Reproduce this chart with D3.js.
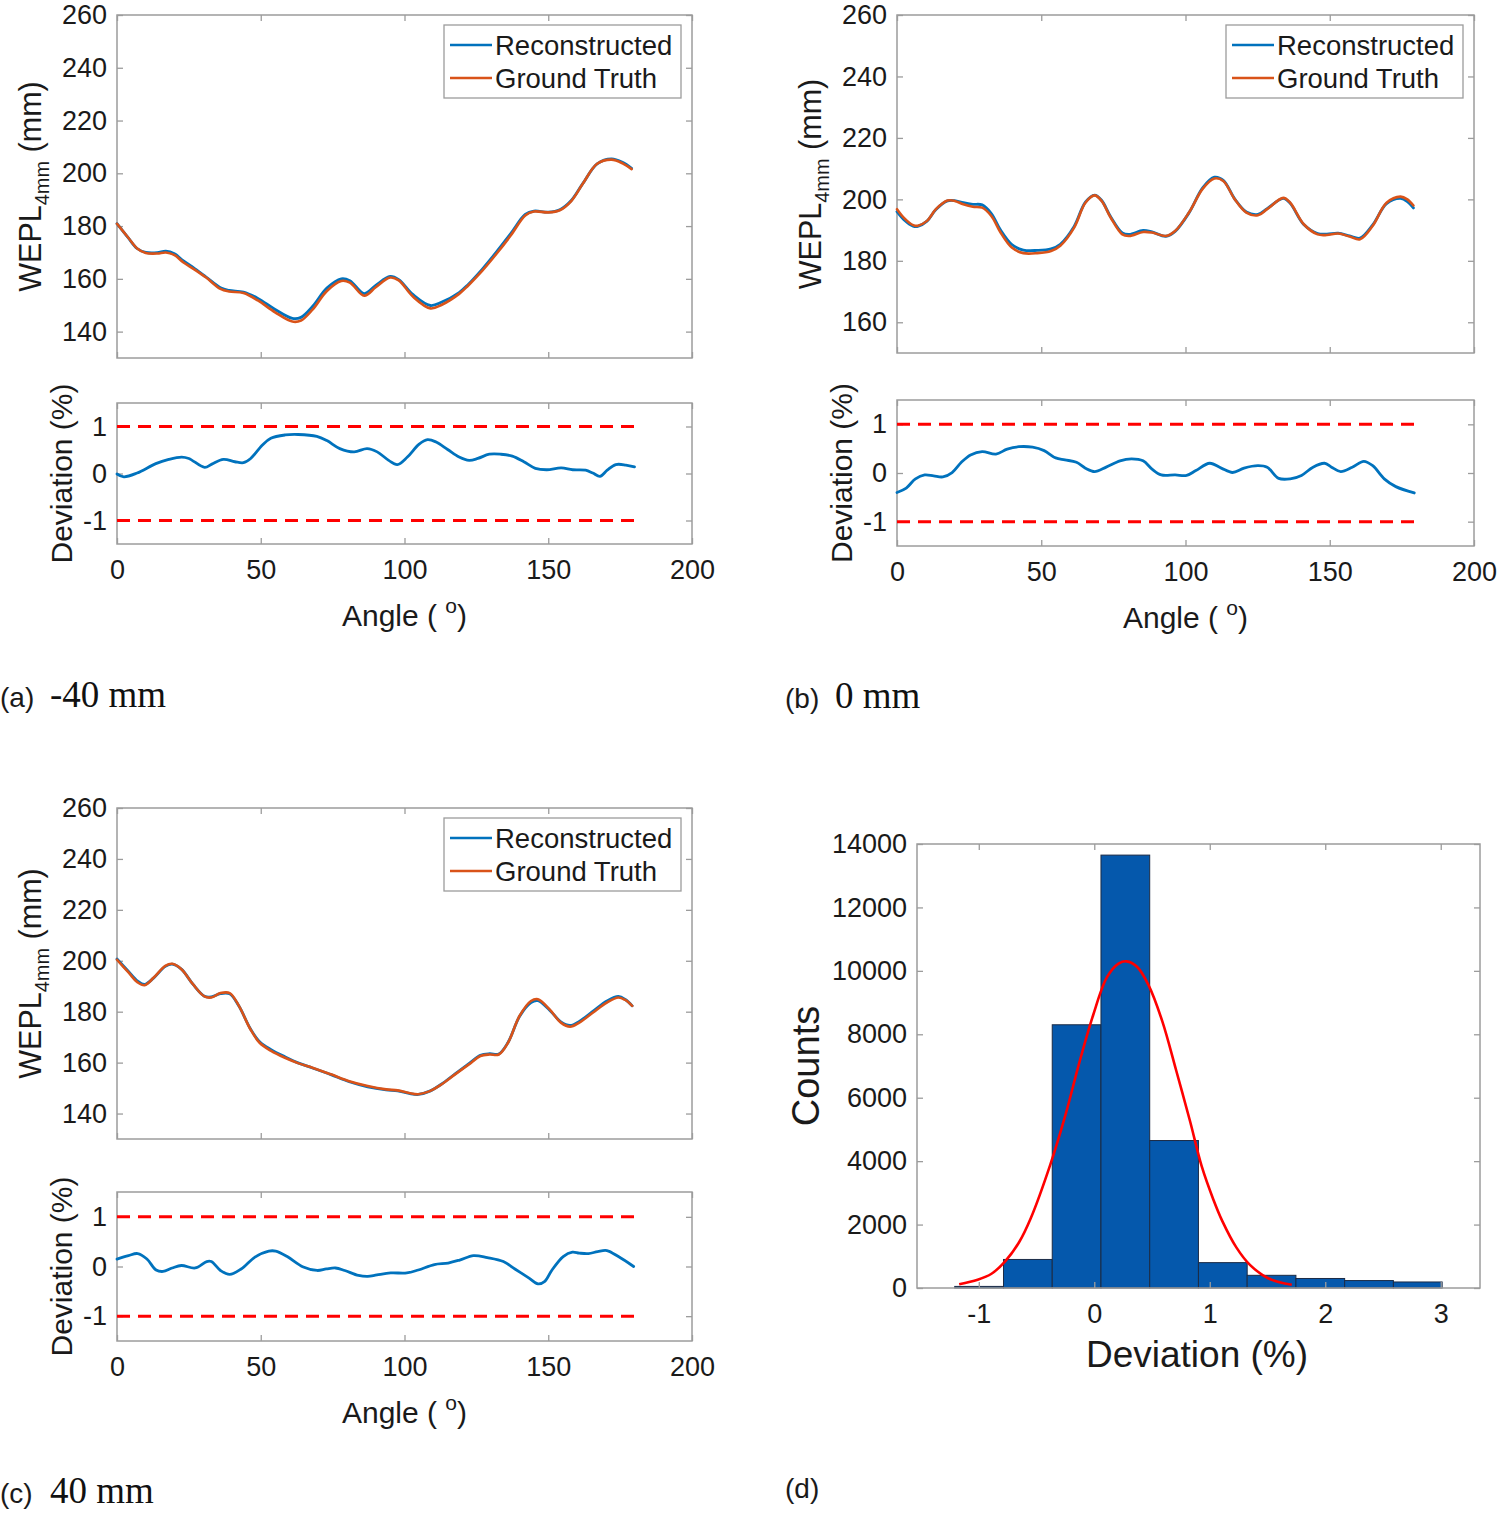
<!DOCTYPE html>
<html><head><meta charset="utf-8">
<script src="https://cdn.jsdelivr.net/npm/d3@7"></script>
<style>
body{margin:0;background:#fff}
svg{display:block}
</style>
</head><body>
<svg id="c" width="1500" height="1513"></svg>
<script>
// ---------------- DATA ----------------
const xTicks = [0, 50, 100, 150, 200];
const wTicksAC = [140, 160, 180, 200, 220, 240, 260];
const wTicksB = [160, 180, 200, 220, 240, 260];
const devTicks = [-1, 0, 1];
const devLimits = [-1, 1];
const legendLabels = ["Reconstructed", "Ground Truth"];

// Panel (a) -40 mm
const angleA = [0,4,7,10,14,17,20,23,27,31,36,39,44,49,55,61,64,68,73,78,81,86,90,95,98,103,109,113,119,122,127,132,137,142,145,150,154,158,162,167,172,176,179];
const gtA  = [180.9,175.5,171.5,169.8,169.6,170.0,169.0,166.3,163.5,160.5,156.2,155.2,154.6,151.8,147.3,143.8,144.2,148.3,155.4,159.2,158.6,153.6,156.8,160.5,159.4,153.2,148.8,150.2,154.3,157.3,163.0,169.5,176.5,184.0,185.5,185.2,186.0,189.5,196.0,203.6,205.2,203.7,201.6];
const recA = [180.9,175.4,171.5,170.0,169.9,170.5,169.5,166.9,163.9,160.7,156.6,155.6,155.0,152.6,148.4,145.0,145.4,149.5,156.5,160.0,159.3,154.4,157.5,160.9,159.7,154.0,149.9,151.2,154.8,157.7,163.6,170.2,177.2,184.4,185.7,185.3,186.2,189.7,196.1,203.6,205.5,204.1,201.9];
const devAngleA = [0,2.4,7,13.5,18,22.5,25,30.5,33,37,41,44,46.5,50.5,53.5,58.5,63,69.5,73,77.5,82.5,87,90.5,94.5,97.5,101,105,108,111,115,119,122.5,125.5,129.5,133.5,137.5,141.5,145.5,149.5,154.5,158.5,163,165.5,168,170.5,173.5,177,180];
const devA = [-0.01,-0.07,0.01,0.21,0.30,0.35,0.32,0.13,0.20,0.30,0.25,0.23,0.32,0.60,0.75,0.82,0.83,0.79,0.70,0.53,0.46,0.53,0.46,0.28,0.19,0.35,0.62,0.72,0.67,0.51,0.35,0.28,0.32,0.41,0.41,0.37,0.25,0.11,0.08,0.12,0.08,0.07,0.01,-0.06,0.07,0.19,0.18,0.14];

// Panel (b) 0 mm
const angleB = [0,2.4,5.6,7.2,10.4,13.5,17.5,20,23,26.3,29.5,32.7,35.9,39.8,43.8,48.6,53.4,56.6,61.4,65.3,68.5,70.9,74.1,78.1,80.5,85.3,88.4,93.2,96.4,101.2,106,110,113.1,117.1,121.1,125.1,128.3,133.9,136.3,141,145.8,149,152.9,156.9,160.5,164.9,169.7,174.5,176.9,179];
const gtB  = [196.8,194.0,191.6,191.4,193.0,196.8,199.6,199.5,198.4,197.6,197.3,194.6,189.2,184.3,182.5,182.5,183.2,184.9,190.8,198.9,201.3,199.5,194.0,188.6,188.1,189.4,189.2,188.1,189.7,195.7,203.5,206.8,206.0,200.0,195.7,194.8,196.8,200.5,198.9,191.9,188.6,188.4,188.9,187.9,187.0,191.4,198.9,200.9,200.0,198.0];
const recB = [196.0,193.4,191.3,191.2,192.9,196.7,199.5,199.6,198.9,198.4,198.2,195.4,190.0,185.3,183.5,183.4,183.9,185.4,191.2,199.1,201.4,199.7,194.3,189.1,188.6,189.9,189.4,188.0,189.6,195.6,203.8,207.2,206.2,200.1,195.9,195.1,197.0,200.3,198.7,191.8,188.9,188.7,189.0,188.1,187.4,191.7,198.6,200.3,199.3,197.2];
const devAngleB = [0,3.2,6.4,9.6,12.7,15.9,19.1,22.3,25.5,29.5,34.3,38.2,42.2,47,51,55,58.2,62.2,65.3,68.5,72.5,77.3,81.3,85.3,88.4,91.6,96.4,100.4,103.6,108.4,112.4,116.3,120.3,125.1,128.3,132.3,136.3,140.2,144.2,148.2,150.6,153.8,157.8,161.8,164.9,168.9,172.9,179.3];
const devB = [-0.40,-0.31,-0.12,-0.04,-0.06,-0.08,0.01,0.22,0.37,0.44,0.39,0.49,0.54,0.53,0.46,0.31,0.27,0.22,0.10,0.03,0.12,0.25,0.29,0.25,0.08,-0.04,-0.04,-0.05,0.05,0.20,0.10,0.01,0.10,0.15,0.12,-0.11,-0.12,-0.05,0.12,0.20,0.12,0.03,0.12,0.24,0.15,-0.12,-0.28,-0.41];

// Panel (c) 40 mm
const angleC = [0,4,7.2,9.6,12.8,16.8,19.2,22.4,26.4,30.4,32.8,36,39.2,42.4,46.4,49.6,53.6,58.4,63.2,68,74.4,80.8,87.2,93.6,97.6,101.6,104.8,108.8,112.8,117.6,122.4,126.4,129.6,132.8,136,140,144,146.4,150.4,154.4,157.6,160.8,165.6,170.4,174.4,176.8,179.2];
const gtC  = [200.4,195.4,191.5,190.4,193.4,198.0,198.8,196.7,190.8,186.0,185.6,187.3,187.3,182.3,173.1,167.8,164.6,161.9,159.7,158.0,155.4,152.7,150.8,149.5,149.1,148.1,147.6,148.8,151.4,155.4,159.3,162.6,163.2,163.2,167.8,178.3,184.2,184.9,181.0,175.7,174.1,175.7,179.7,183.6,185.6,184.6,182.3];
const recC = [200.7,195.8,192.0,190.7,193.3,197.8,198.7,196.7,190.8,186.1,185.8,187.1,187.0,182.2,173.3,168.2,165.1,162.3,159.8,157.9,155.3,152.5,150.5,149.3,148.9,147.9,147.5,148.8,151.5,155.6,159.6,162.9,163.5,163.4,167.9,178.1,183.6,184.3,180.7,176.0,174.6,176.2,180.2,184.2,186.0,184.8,182.3];
const devAngleC = [0,4,7.2,10.4,13.6,16,19.2,22.4,27.2,31.2,32.8,36,39.2,43.2,48,52.8,55.2,59.2,64.8,69.6,72.8,76,79.2,84,87.2,90.4,95.2,100.8,104.8,110.4,115.2,119.2,124,128.8,134.4,138.4,143.2,146.4,148.8,151.2,155.2,158.4,160.8,164,167.2,170.4,174.4,179.7];
const devC = [0.15,0.22,0.26,0.15,-0.07,-0.10,-0.03,0.02,-0.03,0.10,0.10,-0.08,-0.16,-0.05,0.19,0.31,0.31,0.20,-0.01,-0.08,-0.05,-0.03,-0.08,-0.18,-0.20,-0.17,-0.13,-0.13,-0.07,0.04,0.07,0.13,0.22,0.18,0.10,-0.05,-0.23,-0.35,-0.30,-0.08,0.20,0.29,0.27,0.26,0.30,0.32,0.20,0.00];

// Panel (d) histogram
const histEdges = [-1.208,-0.786,-0.364,0.058,0.480,0.902,1.324,1.746,2.168,2.590,3.012];
const histCounts = [50,900,8300,13650,4650,800,400,300,235,190];
const histXTicks = [-1, 0, 1, 2, 3];
const histYTicks = [0, 2000, 4000, 6000, 8000, 10000, 12000, 14000];
const fitX = [-1.17,-1.01,-0.89,-0.77,-0.65,-0.55,-0.38,-0.25,-0.13,-0.01,0.11,0.21,0.28,0.37,0.47,0.59,0.71,0.83,0.93,1.03,1.11,1.23,1.35,1.51,1.71];
const fitY = [120,260,450,850,1450,2200,3900,5450,7100,8600,9800,10230,10300,10130,9550,8400,6850,5250,3840,2800,2100,1280,720,300,100];

// ---------------- DRAWING ----------------
const svg = d3.select("#c");
const BOX = "#9c9c9c";
const TXT = "#1a1a1a";
const BLUE = "#0072BD", ORANGE = "#D95319", RED = "#FF0000";
const SANS = '"Liberation Sans",Arial,Helvetica,sans-serif';
const SERIF = '"Liberation Serif","Times New Roman",serif';
const fmt = d => String(d);

function txt(sel, size) {
  return sel.style("font-family", SANS).style("font-size", size + "px").style("fill", TXT);
}

function frame(x, y, xt, yt, showX, showY) {
  const [x0, x1] = x.range();
  const [yb, ytop] = y.range();
  const g = svg.append("g");
  g.append("rect").attr("x", x0).attr("y", ytop).attr("width", x1 - x0).attr("height", yb - ytop)
    .attr("fill", "none").attr("stroke", BOX).attr("stroke-width", 1.5);
  const style = sel => {
    sel.select(".domain").remove();
    sel.selectAll(".tick line").attr("stroke", BOX).attr("stroke-width", 1.3);
    txt(sel.selectAll(".tick text"), 27);
  };
  g.append("g").attr("transform", `translate(${x0},0)`)
    .call(d3.axisLeft(y).tickValues(yt).tickSize(-6).tickSizeOuter(0).tickPadding(10).tickFormat(showY ? fmt : () => ""))
    .call(style);
  g.append("g").attr("transform", `translate(${x1},0)`)
    .call(d3.axisRight(y).tickValues(yt).tickSize(-6).tickSizeOuter(0).tickFormat(() => ""))
    .call(style);
  g.append("g").attr("transform", `translate(0,${yb})`)
    .call(d3.axisBottom(x).tickValues(xt).tickSize(-6).tickSizeOuter(0).tickPadding(16).tickFormat(showX ? fmt : () => ""))
    .call(style);
  g.append("g").attr("transform", `translate(0,${ytop})`)
    .call(d3.axisTop(x).tickValues(xt).tickSize(-6).tickSizeOuter(0).tickFormat(() => ""))
    .call(style);
  return g;
}

function curve(xs, ys, x, y, color, w, dash) {
  const pts = xs.map((a, i) => [a, ys[i]]);
  const line = d3.line().x(d => x(d[0])).y(d => y(d[1])).curve(d3.curveCatmullRom.alpha(0.5));
  const p = svg.append("path").datum(pts).attr("d", line).attr("fill", "none")
    .attr("stroke", color).attr("stroke-width", w).attr("stroke-linejoin", "round").attr("stroke-linecap", "round");
  if (dash) p.attr("stroke-dasharray", dash).attr("stroke-linecap", "butt");
  return p;
}

function legend(xRight, yTop) {
  const w = 237, h = 73, x0 = xRight - w;
  const g = svg.append("g");
  g.append("rect").attr("x", x0).attr("y", yTop).attr("width", w).attr("height", h)
    .attr("fill", "#fff").attr("stroke", BOX).attr("stroke-width", 1.3);
  [BLUE, ORANGE].forEach((c, i) => {
    const cy = yTop + 20 + i * 33;
    g.append("line").attr("x1", x0 + 6).attr("x2", x0 + 48).attr("y1", cy).attr("y2", cy)
      .attr("stroke", c).attr("stroke-width", 2.6);
    txt(g.append("text").attr("x", x0 + 51).attr("y", cy + 10), 27.5).text(legendLabels[i]);
  });
}

function wLabel(cx, cy) {
  const t = txt(svg.append("text").attr("transform", `translate(${cx},${cy}) rotate(-90)`)
    .attr("text-anchor", "middle"), 30.5);
  t.append("tspan").text("WEPL");
  t.append("tspan").style("font-size", "20px").attr("dy", 8).text("4mm");
  t.append("tspan").attr("dy", -8).text(" (mm)");
}
function devLabel(cx, cy) {
  txt(svg.append("text").attr("transform", `translate(${cx},${cy}) rotate(-90)`)
    .attr("text-anchor", "middle"), 30).text("Deviation (%)");
}
function angleLabel(cx, by) {
  const t = txt(svg.append("text").attr("x", cx).attr("y", by).attr("text-anchor", "middle"), 30);
  t.append("tspan").text("Angle ( ");
  t.append("tspan").style("font-size", "21px").attr("dy", -13).text("o");
  t.append("tspan").attr("dy", 13).text(")");
}
function panelLabel(x, by, letter, rest) {
  txt(svg.append("text").attr("x", x).attr("y", by), 28).text(letter);
  if (rest) svg.append("text").attr("x", x + 50).attr("y", by)
    .style("font-family", SERIF).style("font-size", "37px").style("fill", "#111").text(rest);
}

function anglePanel(cfg) {
  const x = d3.scaleLinear().domain([0, 200]).range(cfg.xr);
  const yT = d3.scaleLinear().domain(cfg.wDom).range(cfg.yTop);
  const yD = d3.scaleLinear().domain([-1.5, 1.5]).range(cfg.yDev);
  frame(x, yT, xTicks, cfg.wTicks, false, true);
  curve(cfg.ang, cfg.rec, x, yT, BLUE, 2.8);
  curve(cfg.ang, cfg.gt, x, yT, ORANGE, 2.6);
  legend(cfg.xr[1] - 11, cfg.yTop[1] + 10);
  frame(x, yD, xTicks, devTicks, true, true);
  devLimits.forEach(v => curve([0, 180], [v, v], x, yD, RED, 3, "13,8"));
  curve(cfg.dAng, cfg.dev, x, yD, BLUE, 2.8);
  wLabel(cfg.xr[0] - 76, (cfg.yTop[0] + cfg.yTop[1]) / 2);
  devLabel(cfg.xr[0] - 45, (cfg.yDev[0] + cfg.yDev[1]) / 2);
  angleLabel((cfg.xr[0] + cfg.xr[1]) / 2, cfg.yDev[0] + 82);
}

anglePanel({xr: [117, 692], yTop: [358, 15], wDom: [130, 260], wTicks: wTicksAC, yDev: [544, 403],
  ang: angleA, gt: gtA, rec: recA, dAng: devAngleA, dev: devA});
anglePanel({xr: [897, 1474], yTop: [353, 15], wDom: [150, 260], wTicks: wTicksB, yDev: [546, 400],
  ang: angleB, gt: gtB, rec: recB, dAng: devAngleB, dev: devB});
anglePanel({xr: [117, 692], yTop: [1139, 808], wDom: [130, 260], wTicks: wTicksAC, yDev: [1341, 1192],
  ang: angleC, gt: gtC, rec: recC, dAng: devAngleC, dev: devC});

// Histogram panel
{
  const x = d3.scaleLinear().domain([-1.535, 3.34]).range([917, 1480]);
  const y = d3.scaleLinear().domain([0, 14000]).range([1288, 844]);
  const bins = histCounts.map((c, i) => ({x0: histEdges[i], x1: histEdges[i + 1], c}));
  svg.append("g").selectAll("rect").data(bins).join("rect")
    .attr("x", d => x(d.x0)).attr("width", d => x(d.x1) - x(d.x0))
    .attr("y", d => y(d.c)).attr("height", d => y(0) - y(d.c))
    .attr("fill", "#0558AC").attr("stroke", "#1c2b45").attr("stroke-width", 1);
  frame(x, y, histXTicks, histYTicks, true, true);
  const line = d3.line().x((d, i) => x(fitX[i])).y(d => y(d)).curve(d3.curveCatmullRom.alpha(0.5));
  svg.append("path").datum(fitY).attr("d", line).attr("fill", "none").attr("stroke", RED).attr("stroke-width", 2.6);
  txt(svg.append("text").attr("transform", `translate(819,1066) rotate(-90)`).attr("text-anchor", "middle"), 38).text("Counts");
  txt(svg.append("text").attr("x", 1197).attr("y", 1367).attr("text-anchor", "middle"), 37).text("Deviation (%)");
}

panelLabel(0, 707, "(a)", "-40 mm");
panelLabel(785, 708, "(b)", "0 mm");
panelLabel(0, 1503, "(c)", "40 mm");
panelLabel(785, 1498, "(d)", null);
</script>
</body></html>
